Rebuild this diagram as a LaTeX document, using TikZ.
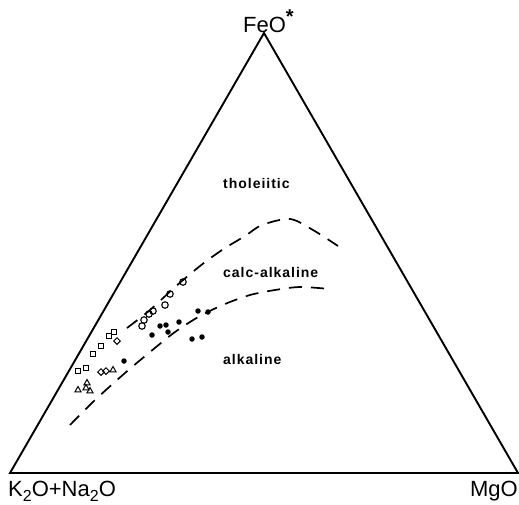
\documentclass[tikz,border=0pt]{standalone}
\usepackage{fontspec}
\setmainfont{Liberation Sans}
\newfontfamily\fieldfont[LetterSpace=7]{Liberation Sans}
\usetikzlibrary{shapes.geometric, positioning}
\newcommand{\lowtwo}{\raisebox{-5pt}{\fontsize{16}{16}\selectfont 2}}
\tikzset{
	opensq/.style  ={rectangle, draw=black, line width=1pt, minimum size=5.5pt, inner sep=0pt},
	opendm/.style  ={diamond, draw=black, line width=1pt, minimum size=7pt, inner sep=0pt},
	opentri/.style ={regular polygon, regular polygon sides=3, draw=black, line width=1pt, minimum size=7pt, inner sep=0pt},
	opendot/.style ={circle, draw=black, line width=1.1pt, minimum size=6.5pt, inner sep=0pt},
	filldot/.style ={circle, fill=black, minimum size=5.5pt, inner sep=0pt},
	% labels
	apexlab/.style ={inner sep=0pt, font=\fontsize{22}{24}\selectfont},
	fieldlab/.style={inner sep=0pt, font=\fieldfont\bfseries\fontsize{14}{16}\selectfont},
	bound/.style   ={line width=1.7pt, dash pattern=on 13pt off 9pt},
}

\begin{document}
\begin{tikzpicture}[x=1pt,y=-1pt]
	\useasboundingbox (0,0) rectangle (519,504);
	% ternary frame
	\coordinate (K) at (10,473);
	\coordinate (F) at (264,33);
	\coordinate (M) at (518,473);
	\draw[line width=1.9pt] (K) -- (F) -- (M) -- cycle;
	\node[apexlab, anchor=base west] (feo) at (243,32) {FeO\raisebox{9pt}{\fontsize{20}{20}\selectfont\bfseries *}};
	\node[apexlab, anchor=base west] (alk) at (8,496) {K\lowtwo O+Na\lowtwo O};
	\node[apexlab, anchor=base east] (mgo) at (518,496) {MgO};
	% field boundaries
	\draw[bound] plot[smooth] coordinates {(127,328) (150,310) (175,287) (200,266) (222,250) (245,236) (262,225) (290,219) (313,230) (338,246)};
	\draw[bound] plot[smooth] coordinates {(70,425) (95,400) (125,373) (150,352) (175,332) (200,316) (225,304) (250,295) (275,290) (300,287) (330,289)};
	% field names
	\node[fieldlab, anchor=base west] (thol) at (223,188) {tholeiitic};
	\node[fieldlab, anchor=base west] (calc) at (223,277) {calc-alkaline};
	\node[fieldlab, anchor=base west] (alkl) at (223,364) {alkaline};
	% samples
	\foreach \p [count=\i] in {(78,371),(86,368),(93,354),(101,346),(109,336),(114,332)}
		\node[opensq] (sq\i) at \p {};
	\foreach \p [count=\i] in {(117,341),(101,372),(106,371)}
		\node[opendm] (dm\i) at \p {};
	\foreach \p [count=\i] in {(113,370),(78,390),(87,383),(86,388),(90,391)}
		\node[opentri] (tr\i) at \p {};
	\foreach \p [count=\i] in {(142,326),(144,320),(149,314),(153,311),(165,305),(170,294),(183,282)}
		\node[opendot] (oc\i) at \p {};
	\foreach \p [count=\i] in {(124,361),(152,335),(160,326),(166,325),(168,332),(179,322),(198,311),(208,312),(192,339),(202,337)}
		\node[filldot] (fc\i) at \p {};
\end{tikzpicture}
\end{document}
